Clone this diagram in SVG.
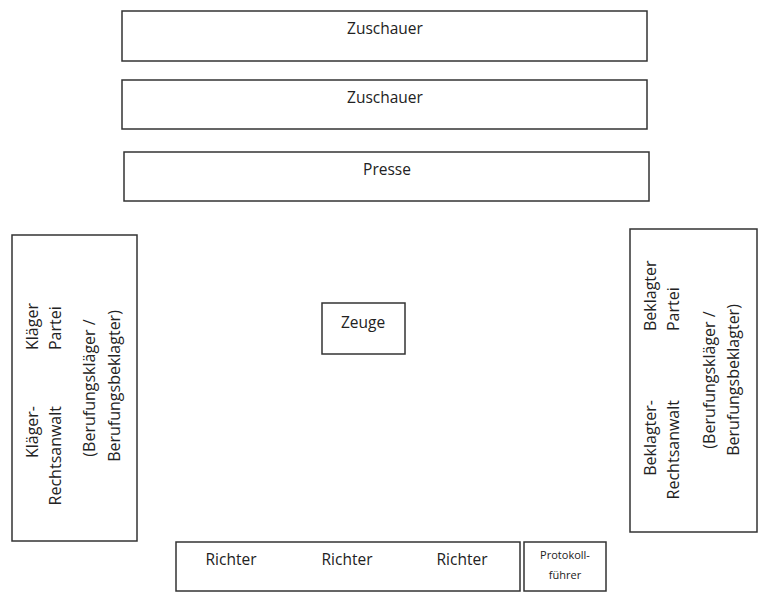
<svg xmlns="http://www.w3.org/2000/svg" width="768" height="596" viewBox="0 0 768 596">
<style>
rect{fill:#fff;stroke:#333;stroke-width:1.5}
text{font-family:"Open Sans","Noto Sans",sans-serif;font-size:15.5px;fill:#222}
.c{text-anchor:middle}
.v{dominant-baseline:central;font-size:16px}
.s{font-size:11px}
</style>
<rect x="0" y="0" width="768" height="596" style="stroke:none"/>
<g id="zuschauer1"><rect x="122" y="11" width="525" height="50"/><text class="c" x="385" y="34">Zuschauer</text></g>
<g id="zuschauer2"><rect x="122" y="80" width="525" height="49"/><text class="c" x="385" y="103">Zuschauer</text></g>
<g id="presse"><rect x="124" y="152" width="525" height="49"/><text class="c" x="387" y="175">Presse</text></g>
<g id="klaeger"><rect x="12" y="235" width="125" height="306"/>
<text class="v" transform="translate(32,350) rotate(-90)">Kläger</text>
<text class="v" transform="translate(55,350) rotate(-90)">Partei</text>
<text class="v c" transform="translate(89,388) rotate(-90)">(Berufungskläger /</text>
<text class="v c" transform="translate(114,386) rotate(-90)">Berufungsbeklagter)</text>
<text class="v" style="text-anchor:end" transform="translate(32,406) rotate(-90)">Kläger-</text>
<text class="v" style="text-anchor:end" transform="translate(55,406) rotate(-90)">Rechtsanwalt</text>
</g>
<g id="beklagter"><rect x="630" y="229" width="127" height="303"/>
<text class="v" transform="translate(650,331) rotate(-90)">Beklagter</text>
<text class="v" transform="translate(673,331) rotate(-90)">Partei</text>
<text class="v c" transform="translate(709,380) rotate(-90)">(Berufungskläger /</text>
<text class="v c" transform="translate(733,380) rotate(-90)">Berufungsbeklagter)</text>
<text class="v" style="text-anchor:end" transform="translate(650,400) rotate(-90)">Beklagter-</text>
<text class="v" style="text-anchor:end" transform="translate(673,400) rotate(-90)">Rechtsanwalt</text>
</g>
<g id="zeuge"><rect x="322" y="303" width="83" height="51"/><text class="c" x="363" y="328">Zeuge</text></g>
<g id="richter"><rect x="176" y="542" width="344" height="49"/>
<text class="c" x="231" y="565">Richter</text>
<text class="c" x="347" y="565">Richter</text>
<text class="c" x="462" y="565">Richter</text>
</g>
<g id="protokoll"><rect x="524" y="542" width="82" height="49"/>
<text class="c s" x="565" y="559">Protokoll-</text>
<text class="c s" x="565" y="579">führer</text>
</g>
<g id="connectors"></g>
</svg>
